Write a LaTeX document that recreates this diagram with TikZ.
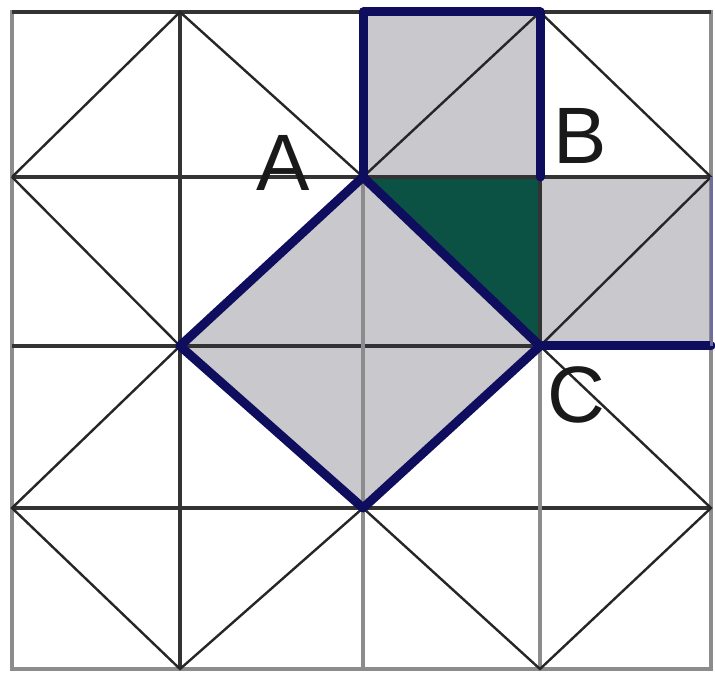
\documentclass[tikz,border=0pt]{standalone}
\usepackage{fontspec}
\setmainfont{Liberation Sans}
\begin{document}
\begin{tikzpicture}[x=1pt,y=-1pt,
  gridline/.style={draw=black!80,line width=3.4pt},
  grayline/.style={draw=black!45,line width=4pt},
  diag/.style={draw=black!85,line width=2.4pt},
  thick blue/.style={draw=navyblue,line width=9pt,line join=round,line cap=round},
  lab/.style={font=\fontsize{80}{80}\selectfont,text=black!90,inner sep=0pt}]
\definecolor{navyblue}{HTML}{0E0D5E}
\definecolor{shadegray}{HTML}{C8C8CD}
\definecolor{darkgreen}{HTML}{0C5244}
\useasboundingbox (0,0) rectangle (715,676);
\fill[white] (0,0) rectangle (715,676);
% grid points
\coordinate (p00) at (12,12);   \coordinate (p10) at (180,12);  \coordinate (p20) at (363,12);  \coordinate (p30) at (540,12);  \coordinate (p40) at (711,12);
\coordinate (p01) at (12,177);  \coordinate (p11) at (180,177); \coordinate (p21) at (363,177); \coordinate (p31) at (540,177); \coordinate (p41) at (711,177);
\coordinate (p02) at (12,346);  \coordinate (p12) at (180,346); \coordinate (p22) at (363,346); \coordinate (p32) at (540,346); \coordinate (p42) at (711,346);
\coordinate (p03) at (12,508);  \coordinate (p13) at (180,508); \coordinate (p23) at (363,508); \coordinate (p33) at (540,508); \coordinate (p43) at (711,508);
\coordinate (p04) at (12,669);  \coordinate (p14) at (180,669); \coordinate (p24) at (363,669); \coordinate (p34) at (540,669); \coordinate (p44) at (711,669);
% shaded regions
\fill[shadegray] (p20) rectangle (p31);
\fill[shadegray] (p31) rectangle (p42);
\fill[shadegray] (p21) -- (p12) -- (p23) -- (p32) -- cycle;
\fill[darkgreen] (p21) -- (p31) -- (p32) -- cycle;
% grid lines
\draw[grayline] (p00) rectangle (p44);
\draw[gridline] (p00) -- (p40);
\draw[gridline] (p01) -- (p41);
\draw[gridline] (p02) -- (p42);
\draw[gridline] (p03) -- (p43);
\draw[gridline] (p10) -- (p14);
\draw[gridline] (p20) -- (p21);
\draw[grayline] (p21) -- (p24);
\draw[gridline] (p30) -- (p32);
\draw[grayline] (p32) -- (p34);
% diagonals
\draw[diag] (p01) -- (p10) -- (p21);
\draw[diag] (p01) -- (p12);
\draw[diag] (p21) -- (p30) -- (p41) -- (p32);
\draw[diag] (p12) -- (p03) -- (p14) -- (p23);
\draw[diag] (p32) -- (p43) -- (p34) -- (p23);
% thick outlines
\draw[thick blue] (p21) -- (p12) -- (p23) -- (p32) -- cycle;
\draw[thick blue] (p21) -- (p20) -- (p30) -- (p31);
\draw[thick blue] (p32) -- (p42);
\draw[draw=navyblue!60,line width=3pt] (p42) -- (p41);
% labels
\node[lab] (A) at (283,163) {A};
\node[lab] (B) at (580,136) {B};
\node[lab] (C) at (576,395) {C};
\end{tikzpicture}
\end{document}
